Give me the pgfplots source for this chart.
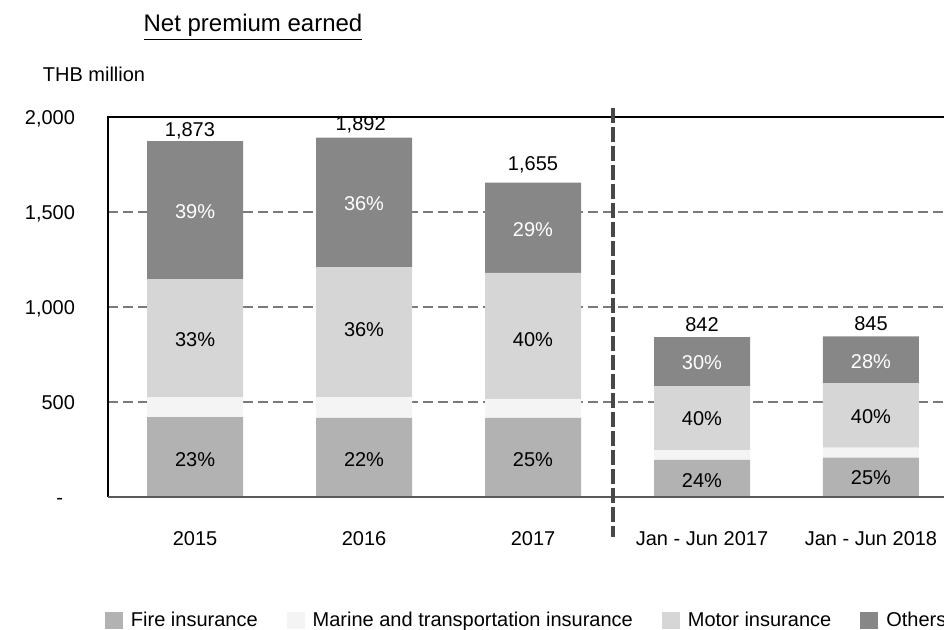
\documentclass[border=0pt]{standalone}
\usepackage{fontspec}
\setmainfont{Liberation Sans}
\usepackage{pgfplots}
\pgfplotsset{compat=1.18}
\definecolor{firec}{HTML}{B2B2B2}
\definecolor{marinec}{HTML}{F4F4F4}
\definecolor{motorc}{HTML}{D6D6D6}
\definecolor{otherc}{HTML}{878787}
\definecolor{gridc}{HTML}{7A7A7A}
\definecolor{sepc}{HTML}{474747}
\newcommand{\lbl}{\fontsize{10}{12}\selectfont}

\begin{document}
\begin{tikzpicture}
\useasboundingbox (-54pt,-66.5pt) rectangle (418pt,248.5pt);

\node[font=\fontsize{12}{14}\selectfont, anchor=base] at (72.5pt,232.6pt) {\underline{Net premium earned}};
\node[font=\lbl, anchor=base] at (-7pt,207.6pt) {THB million};

\begin{axis}[
  name=ax,
  at={(0pt,0pt)}, anchor=south west,
  scale only axis, width=418pt, height=190pt,
  ybar stacked, bar width=48pt,
  xmin=-0.515, xmax=4.432, ymin=0, ymax=2000,
  xtick={0,1,2,3,4},
  xticklabels={2015,2016,2017,Jan - Jun 2017,Jan - Jun 2018},
  ytick={0,500,1000,1500,2000},
  yticklabels={-\hspace{6pt}\mbox{},500,{1,000},{1,500},{2,000}},
  major tick length=0pt,
  axis line style={draw=none},
  ymajorgrids,
  grid style={gridc, line width=0.8pt, dash pattern=on 5pt off 2.5pt},
  tick label style={font=\lbl, text=black, text height=7.2pt, text depth=0pt},
  yticklabel style={anchor=east, xshift=-13pt},
  xticklabel style={anchor=center, yshift=-20.5pt},
  clip=false,
  legend columns=4,
  legend cell align=left,
  legend style={at={(-0.0036,-0.326)}, anchor=west, draw=none, fill=none,
    inner sep=0pt, outer sep=0pt, font=\lbl,
    nodes={inner xsep=0pt},
    /tikz/every odd column/.append style={column sep=4pt},
    /tikz/every even column/.append style={column sep=14.5pt}},
  legend image code/.code={\fill[#1] (0pt,-4.25pt) rectangle (9pt,4.25pt);},
]

\addplot[fill=firec, draw=none] coordinates {(0,420) (1,417) (2,416) (3,196) (4,207)};
\addlegendentry{Fire insurance}
\addplot[fill=marinec, draw=none] coordinates {(0,106) (1,109) (2,100) (3,51) (4,53)};
\addlegendentry{Marine and transportation insurance}
\addplot[fill=motorc, draw=none] coordinates {(0,621) (1,684) (2,663) (3,337) (4,338)};
\addlegendentry{Motor insurance}
\addplot[fill=otherc, draw=none] coordinates {(0,726) (1,682) (2,476) (3,258) (4,247)};
\addlegendentry{Others}

% anchor points, used after the axis so that the text lies over the bars
\coordinate (sepT) at (axis cs:2.473,2047);
\coordinate (sepB) at (axis cs:2.473,-210);
\coordinate (t0) at (axis cs:-0.03,1929);
\coordinate (t1) at (axis cs:0.98,1958);
\coordinate (t2) at (axis cs:2,1747);
\coordinate (t3) at (axis cs:3,905);
\coordinate (t4) at (axis cs:4,910);
\coordinate (o0) at (axis cs:0,1500);
\coordinate (m0) at (axis cs:0,826);
\coordinate (f0) at (axis cs:0,195);
\coordinate (o1) at (axis cs:1,1542);
\coordinate (m1) at (axis cs:1,879);
\coordinate (f1) at (axis cs:1,195);
\coordinate (o2) at (axis cs:2,1405);
\coordinate (m2) at (axis cs:2,826);
\coordinate (f2) at (axis cs:2,195);
\coordinate (o3) at (axis cs:3,705);
\coordinate (m3) at (axis cs:3,411);
\coordinate (f3) at (axis cs:3,89);
\coordinate (o4) at (axis cs:4,711);
\coordinate (m4) at (axis cs:4,421);
\coordinate (f4) at (axis cs:4,100);
\end{axis}

% frame: left and top black, bottom grey, no right edge
\draw[black, line width=0.8pt] (ax.south west) -- (ax.north west) -- (ax.north east);
\draw[gray!70!black, line width=1pt] (ax.south west) -- (ax.south east);
\draw[sepc, line width=1.6pt, dash pattern=on 7.5pt off 2pt] (sepT) -- (sepB);

\begin{scope}[every node/.style={font=\lbl}]
\node at (t0) {1,873};
\node at (t1) {1,892};
\node at (t2) {1,655};
\node at (t3) {842};
\node at (t4) {845};

\node[white] at (o0) {39\%};
\node at (m0) {33\%};
\node at (f0) {23\%};
\node[white] at (o1) {36\%};
\node at (m1) {36\%};
\node at (f1) {22\%};
\node[white] at (o2) {29\%};
\node at (m2) {40\%};
\node at (f2) {25\%};
\node[white] at (o3) {30\%};
\node at (m3) {40\%};
\node at (f3) {24\%};
\node[white] at (o4) {28\%};
\node at (m4) {40\%};
\node at (f4) {25\%};
\end{scope}
\end{tikzpicture}
\end{document}
